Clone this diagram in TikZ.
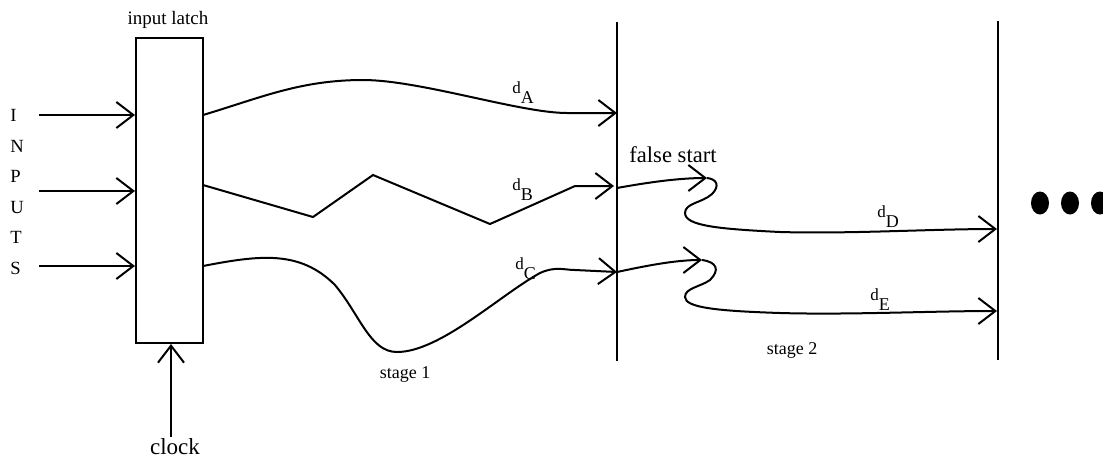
\documentclass[tikz,border=0pt]{standalone}
\usepackage{fontspec}
\setmainfont{Liberation Serif}
\usetikzlibrary{arrows.meta}
\newcommand{\dsub}[1]{d\lower5pt\hbox{\fontsize{9}{10}\selectfont #1}}
\begin{document}
\begin{tikzpicture}[x=0.5pt,y=-0.5pt,
  wire/.style={line width=1pt},
  arr/.style={wire,-{Straight Barb[length=8.5pt,width=13pt]}},
  dlab/.style={anchor=base west,inner sep=0pt,font=\fontsize{8.5}{9}\selectfont},
  letter/.style={anchor=base west,inner sep=0pt,font=\fontsize{9.3}{10}\selectfont},
  stagelab/.style={anchor=base,inner sep=0pt,font=\fontsize{9}{10}\selectfont}]
\useasboundingbox (0,0) rectangle (1103,457);
% latch
\node[draw,line width=1pt,minimum width=33.5pt,minimum height=152.5pt,inner sep=0pt] (latch) at (169.5,190.5) {};
\node[inner sep=0pt,font=\fontsize{9.5}{10}\selectfont] (latchlab) at (168,20) {input latch};
% input letters
\node[letter] (lI) at (10,121) {I};
\node[letter] (lN) at (10,152) {N};
\node[letter] (lP) at (10,182) {P};
\node[letter] (lU) at (10,213) {U};
\node[letter] (lT) at (10,243) {T};
\node[letter] (lS) at (10,274) {S};
% input arrows
\coordinate (in1) at (39,115);
\coordinate (in2) at (39,191);
\coordinate (in3) at (39,266);
\draw[arr] (in1) -- (latch.west |- in1);
\draw[arr] (in2) -- (latch.west |- in2);
\draw[arr] (in3) -- (latch.west |- in3);
% clock
\node[inner sep=0pt,font=\fontsize{11.5}{12}\selectfont] (clock) at (175,447) {clock};
\coordinate (clk) at (171,437);
\draw[arr] (clk) -- (latch.south -| clk);
% stage lines
\coordinate (s1top) at (617,22);
\coordinate (s1bot) at (617,361);
\coordinate (s2top) at (998,21);
\coordinate (s2bot) at (998,360);
\draw[wire] (s1top) -- (s1bot);
\draw[wire] (s2top) -- (s2bot);
% stage 1 paths
\coordinate (a0) at (203,115);
\coordinate (a1) at (617,113);
\draw[arr] (a0) .. controls (260,98) and (300,80) .. (363,80)
  .. controls (420,80) and (520,113) .. (567,113) -- (a1);
\coordinate (b0) at (203,185);
\coordinate (b1) at (614,186);
\draw[arr] (b0) -- (313,217) -- (373,175) -- (490,224) -- (575,186) -- (b1);
\coordinate (c0) at (203,266);
\coordinate (c1) at (617,272);
\draw[arr] (c0) .. controls (260,255) and (300,250) .. (335,285)
  .. controls (360,315) and (370,352) .. (397,352)
  .. controls (440,352) and (500,295) .. (540,273)
  .. controls (555,266) and (565,270) .. (575,270) -- (c1);
\node[dlab] (dA) at (512,93) {\dsub{A}};
\node[dlab] (dB) at (512,190) {\dsub{B}};
\node[dlab] (dC) at (515,269) {\dsub{C}};
\node[stagelab] (st1) at (405,378) {stage 1};
% false starts
\coordinate (f1s) at (617,188);
\coordinate (f1t) at (707,178);
\draw[arr] (f1s) .. controls (650,182) and (680,178) .. (f1t);
\coordinate (dDend) at (997,229);
\draw[arr] (f1t) .. controls (717,179) and (720,186) .. (712,194)
  .. controls (702,203) and (685,203) .. (685,213)
  .. controls (685,226) and (720,229) .. (780,232)
  .. controls (850,234) and (930,229) .. (dDend);
\coordinate (f2s) at (617,272);
\coordinate (f2t) at (702,260);
\draw[arr] (f2s) .. controls (645,266) and (675,260) .. (f2t);
\coordinate (dEend) at (997,311);
\draw[arr] (f2t) .. controls (717,262) and (720,270) .. (710,280)
  .. controls (700,287) and (685,288) .. (685,297)
  .. controls (685,308) and (720,311) .. (780,313)
  .. controls (850,315) and (930,311) .. (dEend);
\node[anchor=base,inner sep=0pt,font=\fontsize{11.3}{12}\selectfont] (fs) at (673,162) {false start};
\node[dlab] (dD) at (877,217) {\dsub{D}};
\node[dlab] (dE) at (870,300) {\dsub{E}};
\node[stagelab] (st2) at (792,354) {stage 2};
% dots
\fill (1040,203) ellipse [x radius=9, y radius=11.5];
\fill (1070,203) ellipse [x radius=9, y radius=11.5];
\fill (1100,203) ellipse [x radius=9, y radius=11.5];
\end{tikzpicture}
\end{document}
